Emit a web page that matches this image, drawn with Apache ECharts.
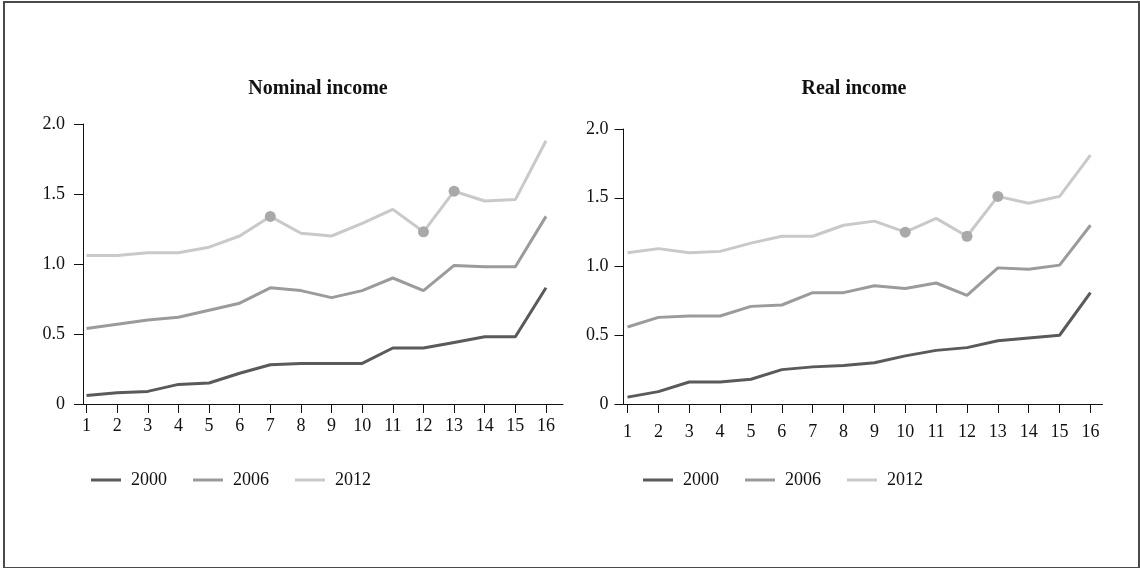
<!DOCTYPE html>
<html>
<head>
<meta charset="utf-8">
<script src="https://cdn.jsdelivr.net/npm/echarts@6/dist/echarts.min.js"></script>
<style>
  html, body { margin: 0; padding: 0; background: #fff; }
  #chart { position: absolute; left: 0; top: 0; width: 1140px; height: 568px; }
  #frame { position: absolute; left: 3px; top: 1px; width: 1133px; height: 564px;
           border: 2px solid #4a4a4a; pointer-events: none; }
</style>
</head>
<body>
<div id="chart"></div>
<div id="frame"></div>
<script>
// Income groups 1..16 on the x axis
const groups = [1, 2, 3, 4, 5, 6, 7, 8, 9, 10, 11, 12, 13, 14, 15, 16];
const years = ['2000', '2006', '2012'];
const yTicks = [0, 0.5, 1.0, 1.5, 2.0];

// Nominal income
const nominal2000 = [0.06, 0.08, 0.09, 0.14, 0.15, 0.22, 0.28, 0.29, 0.29, 0.29, 0.40, 0.40, 0.44, 0.48, 0.48, 0.83];
const nominal2006 = [0.54, 0.57, 0.60, 0.62, 0.67, 0.72, 0.83, 0.81, 0.76, 0.81, 0.90, 0.81, 0.99, 0.98, 0.98, 1.34];
const nominal2012 = [1.06, 1.06, 1.08, 1.08, 1.12, 1.20, 1.34, 1.22, 1.20, 1.29, 1.39, 1.23, 1.52, 1.45, 1.46, 1.88];
const nominalMarked = [7, 12, 13];

// Real income
const real2000 = [0.05, 0.09, 0.16, 0.16, 0.18, 0.25, 0.27, 0.28, 0.30, 0.35, 0.39, 0.41, 0.46, 0.48, 0.50, 0.81];
const real2006 = [0.56, 0.63, 0.64, 0.64, 0.71, 0.72, 0.81, 0.81, 0.86, 0.84, 0.88, 0.79, 0.99, 0.98, 1.01, 1.30];
const real2012 = [1.10, 1.13, 1.10, 1.11, 1.17, 1.22, 1.22, 1.30, 1.33, 1.25, 1.35, 1.22, 1.51, 1.46, 1.51, 1.81];
const realMarked = [10, 12, 13];

const FONT = '"Liberation Serif", "Times New Roman", serif';
const lineColors = ['#5a5a5a', '#9b9b9b', '#c9c9c9'];
const markerColor = '#a9a9a9';

function points(values, marked) {
  return values.map((v, i) => {
    const x = groups[i];
    const isMarked = marked && marked.indexOf(x) >= 0;
    return {
      value: [x, v],
      symbol: isMarked ? 'circle' : 'none',
      symbolSize: 11,
      itemStyle: { color: markerColor }
    };
  });
}

function lineSeries(name, values, idx, colorIdx, marked) {
  return {
    name: name,
    type: 'line',
    xAxisIndex: idx,
    yAxisIndex: idx,
    showSymbol: true,
    symbol: 'none',
    lineStyle: { color: lineColors[colorIdx], width: 3 },
    itemStyle: { color: lineColors[colorIdx] },
    emphasis: { disabled: true },
    data: points(values, marked)
  };
}

function xAxis(idx, min, max, labelMargin) {
  return {
    type: 'value',
    gridIndex: idx,
    min: min,
    max: max,
    splitLine: { show: false },
    axisLine: { show: true, lineStyle: { color: '#111', width: 1 } },
    axisTick: { show: true, length: 9, customValues: groups, lineStyle: { color: '#111' } },
    axisLabel: { customValues: groups, margin: labelMargin, color: '#111', fontFamily: FONT, fontSize: 18 }
  };
}

function yAxis(idx, labelMargin) {
  return {
    type: 'value',
    gridIndex: idx,
    min: 0,
    max: 2,
    interval: 0.5,
    splitLine: { show: false },
    axisLine: { show: true, lineStyle: { color: '#111', width: 1 } },
    axisTick: { show: true, length: 9, lineStyle: { color: '#111' } },
    axisLabel: {
      margin: labelMargin, color: '#111', fontFamily: FONT, fontSize: 18,
      customValues: yTicks,
      formatter: v => (v === 0 ? '0' : v.toFixed(1))
    }
  };
}

function legend(left) {
  return {
    left: left,
    top: 471,
    padding: 0,
    icon: 'rect',
    itemWidth: 30,
    itemHeight: 3,
    itemGap: 26,
    data: years,
    selectedMode: false,
    textStyle: { color: '#111', fontFamily: FONT, fontSize: 18, padding: [0, 0, 0, 5] }
  };
}

const chart = echarts.init(document.getElementById('chart'), null, { renderer: 'canvas' });
chart.setOption({
  animation: false,
  backgroundColor: '#fff',
  color: lineColors,
  graphic: [
    { type: 'text', x: 318, y: 79, style: { text: 'Nominal income', font: 'bold 20px ' + FONT, fill: '#111', textAlign: 'center' } },
    { type: 'text', x: 854, y: 79, style: { text: 'Real income', font: 'bold 20px ' + FONT, fill: '#111', textAlign: 'center' } }
  ],
  grid: [
    { left: 83, top: 124, width: 480, height: 280 },
    { left: 623.5, top: 129, width: 479, height: 275 }
  ],
  xAxis: [
    xAxis(0, 0.886, 16.555, 13),
    xAxis(1, 0.87, 16.39, 19)
  ],
  yAxis: [
    yAxis(0, 18),
    yAxis(1, 15)
  ],
  legend: [legend(91), legend(643)],
  series: [
    lineSeries('2000', nominal2000, 0, 0, null),
    lineSeries('2006', nominal2006, 0, 1, null),
    lineSeries('2012', nominal2012, 0, 2, nominalMarked),
    lineSeries('2000', real2000, 1, 0, null),
    lineSeries('2006', real2006, 1, 1, null),
    lineSeries('2012', real2012, 1, 2, realMarked)
  ]
});
</script>
</body>
</html>
